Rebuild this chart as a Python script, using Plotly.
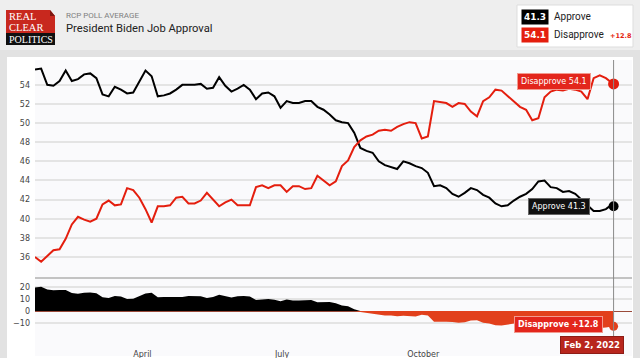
import plotly.graph_objects as go
import pandas as pd

# ---------------- data ----------------
start_date = "2021-01-21"
step = "4D"
n_steps = 95
last_date = "2022-02-02"

approve = [55.6, 55.7, 54.0, 53.9, 54.4, 55.5, 54.4, 54.6, 55.1, 55.2,
           54.7, 53.0, 52.8, 53.8, 53.5, 53.1, 53.2, 54.4, 55.5, 54.9,
           52.8, 52.9, 53.1, 53.5, 54.0, 54.0, 54.0, 54.1, 53.6, 53.7,
           54.8, 53.9, 53.3, 53.6, 54.0, 53.5, 52.5, 53.1, 53.2, 52.8,
           51.6, 52.3, 52.1, 52.1, 52.3, 52.3, 51.7, 51.4, 50.9, 50.3,
           50.1, 50.0, 49.0, 47.4, 47.1, 46.9, 46.0, 45.6, 45.4, 45.2,
           46.0, 45.8, 45.5, 45.3, 44.8, 43.4, 43.5, 43.2, 42.6, 42.3,
           42.7, 43.2, 43.0, 42.5, 42.2, 41.6, 41.3, 41.4, 41.9, 42.3,
           42.6, 43.1, 43.9, 44.0, 43.3, 43.2, 42.8, 42.9, 42.6, 42.0,
           41.3, 40.8, 40.8, 41.0, 41.5, 41.3]

disapprove = [36.0, 35.5, 36.1, 36.7, 36.8, 37.9, 39.4, 40.2, 39.9, 39.7,
              40.0, 41.5, 41.9, 41.4, 41.5, 43.2, 43.0, 42.2, 41.0, 39.6,
              41.3, 41.3, 41.4, 42.2, 42.3, 41.6, 41.6, 41.9, 42.7, 42.0,
              41.3, 41.7, 42.0, 41.4, 41.4, 41.4, 43.3, 43.5, 43.2, 43.5,
              43.5, 42.8, 43.4, 43.4, 43.1, 43.2, 44.5, 44.0, 43.5, 43.9,
              45.5, 46.1, 47.5, 48.2, 48.6, 48.8, 49.2, 49.3, 49.2, 49.6,
              49.9, 50.1, 50.0, 48.4, 48.6, 52.3, 52.2, 52.1, 51.7, 52.1,
              52.0, 51.2, 50.7, 52.3, 52.7, 53.5, 53.4, 52.8, 52.3, 51.7,
              51.4, 50.3, 50.5, 52.7, 53.3, 53.5, 53.4, 53.6, 53.5, 53.3,
              52.5, 54.7, 55.0, 54.7, 54.2, 54.1]

month_ticks = ["2021-04-01", "2021-07-01", "2021-10-01"]
month_labels = ["April", "July", "October"]
main_ticks = [36, 38, 40, 42, 44, 46, 48, 50, 52, 54]
spread_ticks = [-10, 0, 10, 20]

dates = list(pd.date_range(start_date, periods=n_steps, freq=step).strftime("%Y-%m-%d")) + [last_date]
spread = [round(a - d, 1) for a, d in zip(approve, disapprove)]
spread_pos = [max(s, 0) for s in spread]
spread_neg = [min(s, 0) for s in spread]

# ---------------- style ----------------
W, H = 640, 358
RED = "#e41e0e"
RED_FILL = "#e2401c"
DARK_RED = "#b8261d"
TICK_FONT = dict(family="DejaVu Sans", size=8, color="#444444")


def px(x):
    return x / W


def py(y):
    return 1 - y / H


fig = go.Figure()

# lower panel fills
fig.add_trace(go.Scatter(x=dates, y=spread_pos, xaxis="x", yaxis="y2", mode="lines",
                         line=dict(width=0, color="#000000"), fill="tozeroy",
                         fillcolor="#000000", hoverinfo="skip", showlegend=False))
fig.add_trace(go.Scatter(x=dates, y=spread_neg, xaxis="x", yaxis="y2", mode="lines",
                         line=dict(width=0, color=RED_FILL), fill="tozeroy",
                         fillcolor=RED_FILL, hoverinfo="skip", showlegend=False))
fig.add_trace(go.Scatter(x=[dates[-1]], y=[spread[-1]], xaxis="x", yaxis="y2", mode="markers",
                         marker=dict(size=9, color=RED_FILL), showlegend=False))

# main lines
fig.add_trace(go.Scatter(x=dates, y=approve, mode="lines", line=dict(color="#000000", width=2),
                         name="Approve", showlegend=False))
fig.add_trace(go.Scatter(x=dates, y=disapprove, mode="lines", line=dict(color=RED, width=2),
                         name="Disapprove", showlegend=False))
fig.add_trace(go.Scatter(x=[dates[-1]], y=[approve[-1]], mode="markers",
                         marker=dict(size=10, color="#000000"), showlegend=False))
fig.add_trace(go.Scatter(x=[dates[-1]], y=[disapprove[-1]], mode="markers",
                         marker=dict(size=11, color=RED), showlegend=False))

shapes = []
# header band
shapes.append(dict(type="rect", xref="paper", yref="paper", x0=0, x1=1, y0=py(50), y1=1,
                   fillcolor="#eeeeee", line=dict(width=0), layer="below"))
# white panel
shapes.append(dict(type="rect", xref="paper", yref="paper", x0=px(7), x1=px(633), y0=py(358), y1=py(57),
                   fillcolor="#ffffff", line=dict(width=0), layer="below"))
# plot background
shapes.append(dict(type="rect", xref="paper", yref="paper", x0=px(35), x1=px(632), y0=py(356), y1=py(60),
                   fillcolor="#fafafc", line=dict(width=0), layer="below"))
# separator line
shapes.append(dict(type="line", xref="paper", yref="paper", x0=px(35), x1=px(632), y0=py(278), y1=py(278),
                   line=dict(color="#b0b0b0", width=1.5)))
# vertical cursor line
shapes.append(dict(type="line", xref="x", yref="paper", x0=dates[-1], x1=dates[-1], y0=py(338), y1=py(60),
                   line=dict(color="#8a8a8a", width=1)))
# legend box
shapes.append(dict(type="rect", xref="paper", yref="paper", x0=px(517), x1=px(633), y0=py(47), y1=py(5),
                   fillcolor="#ffffff", line=dict(color="#dddddd", width=1)))
# logo
shapes.append(dict(type="path", xref="paper", yref="paper",
                   path=f"M{px(6)},{py(10)} L{px(50)},{py(10)} L{px(55)},{py(16)} L{px(55)},{py(33)} L{px(6)},{py(33)} Z",
                   fillcolor="#c8281e", line=dict(width=0)))
shapes.append(dict(type="path", xref="paper", yref="paper",
                   path=f"M{px(50)},{py(10)} L{px(50)},{py(16)} L{px(55)},{py(16)} Z",
                   fillcolor="#7d1610", line=dict(width=0)))
shapes.append(dict(type="rect", xref="paper", yref="paper", x0=px(6), x1=px(55), y0=py(45), y1=py(33),
                   fillcolor="#111111", line=dict(width=0)))

annotations = []
serif = dict(family="Liberation Serif", size=10.5, color="#ffffff")
annotations.append(dict(text="REAL", x=px(6.5), y=py(17), xref="paper", yref="paper", xanchor="left",
                        yanchor="middle", showarrow=False, font=serif))
annotations.append(dict(text="CLEAR", x=px(6.5), y=py(27), xref="paper", yref="paper", xanchor="left",
                        yanchor="middle", showarrow=False, font=serif))
annotations.append(dict(text="POLITICS", x=px(30.5), y=py(39.5), xref="paper", yref="paper", xanchor="center",
                        yanchor="middle", showarrow=False, font=dict(family="Liberation Serif", size=10, color="#ffffff")))
annotations.append(dict(text="RCP POLL AVERAGE", x=px(64), y=py(15), xref="paper", yref="paper", xanchor="left",
                        yanchor="middle", showarrow=False, font=dict(family="Roboto", size=8, color="#808080")))
annotations.append(dict(text="President Biden Job Approval", x=px(64), y=py(28), xref="paper", yref="paper",
                        xanchor="left", yanchor="middle", showarrow=False,
                        font=dict(family="Roboto", size=11.2, color="#222222")))

# legend contents
annotations.append(dict(text=f"<b>{approve[-1]}</b>", x=px(535), y=py(17), xref="paper", yref="paper",
                        xanchor="center", yanchor="middle", showarrow=False, width=24, height=12,
                        bgcolor="#000000", font=dict(family="DejaVu Sans", size=9, color="#ffffff")))
annotations.append(dict(text=f"<b>{disapprove[-1]}</b>", x=px(535), y=py(35), xref="paper", yref="paper",
                        xanchor="center", yanchor="middle", showarrow=False, width=24, height=12,
                        bgcolor=RED, font=dict(family="DejaVu Sans", size=9, color="#ffffff")))
annotations.append(dict(text="Approve", x=px(552), y=py(17), xref="paper", yref="paper", xanchor="left",
                        yanchor="middle", showarrow=False, font=dict(family="Roboto", size=10, color="#222222")))
annotations.append(dict(text="Disapprove", x=px(552), y=py(35), xref="paper", yref="paper", xanchor="left",
                        yanchor="middle", showarrow=False, font=dict(family="Roboto", size=10, color="#222222")))
annotations.append(dict(text=f"<b>+{round(disapprove[-1] - approve[-1], 1)}</b>", x=px(608), y=py(35.5),
                        xref="paper", yref="paper", xanchor="left", yanchor="middle", showarrow=False,
                        font=dict(family="DejaVu Sans", size=6.5, color=RED)))

# point labels
annotations.append(dict(text=f"Disapprove {disapprove[-1]}", x=dates[-1], y=disapprove[-1], xref="x", yref="y",
                        xanchor="right", yanchor="middle", xshift=-23, yshift=2, showarrow=False,
                        bgcolor="#e3261c", bordercolor="#f29a8f", borderwidth=1, borderpad=3,
                        font=dict(family="DejaVu Sans", size=8, color="#ffffff")))
annotations.append(dict(text=f"Approve {approve[-1]}", x=dates[-1], y=approve[-1], xref="x", yref="y",
                        xanchor="right", yanchor="middle", xshift=-24, yshift=0, showarrow=False,
                        bgcolor="#111111", bordercolor="#666666", borderwidth=1, borderpad=3,
                        font=dict(family="DejaVu Sans", size=8, color="#ffffff")))
annotations.append(dict(text=f"<b>Disapprove +{abs(spread[-1])}</b>", x=dates[-1], y=spread[-1], xref="x",
                        yref="y2", xanchor="right", yanchor="middle", xshift=-11, yshift=2, showarrow=False,
                        bgcolor="#e3261c", bordercolor="#f29a8f", borderwidth=1, borderpad=3,
                        font=dict(family="DejaVu Sans", size=8, color="#ffffff")))
annotations.append(dict(text="<b>Feb 2, 2022</b>", x=dates[-1], y=py(345), xref="x", yref="paper",
                        xanchor="center", yanchor="middle", xshift=-22, showarrow=False,
                        bgcolor=DARK_RED, bordercolor="#8e1c15", borderwidth=1, borderpad=3,
                        font=dict(family="DejaVu Sans", size=8.5, color="#ffffff")))

fig.update_layout(
    width=W, height=H,
    margin=dict(l=0, r=0, t=0, b=0),
    paper_bgcolor="#e2e2e2",
    plot_bgcolor="rgba(0,0,0,0)",
    showlegend=False,
    hovermode=False,
    shapes=shapes,
    annotations=annotations,
    xaxis=dict(domain=[px(35), px(632)], anchor="y2", type="date",
               range=["2021-01-21", "2022-02-14"],
               tickvals=month_ticks, ticktext=month_labels, tickfont=TICK_FONT,
               showgrid=False, zeroline=False, showline=False, ticks="", ticklen=0,
               ticklabelstandoff=4),
    yaxis=dict(domain=[py(278), py(60)], anchor="x", range=[33.8, 56.6],
               tickvals=main_ticks, tickfont=TICK_FONT, gridcolor="#e4e4e4", gridwidth=1.5,
               zeroline=False, showline=False, ticks="", ticklen=0, ticklabelstandoff=4),
    yaxis2=dict(domain=[py(344), py(278)], anchor="x", range=[-27.5, 27.5],
                tickvals=spread_ticks, tickfont=TICK_FONT, gridcolor="#e4e4e4", gridwidth=1.5,
                zeroline=True, zerolinecolor="#9a4a3a", zerolinewidth=1,
                showline=False, ticks="", ticklen=0, ticklabelstandoff=4),
)

fig.write_html("out.html", config={"displayModeBar": False},
               post_script="document.body.style.margin='0';")
